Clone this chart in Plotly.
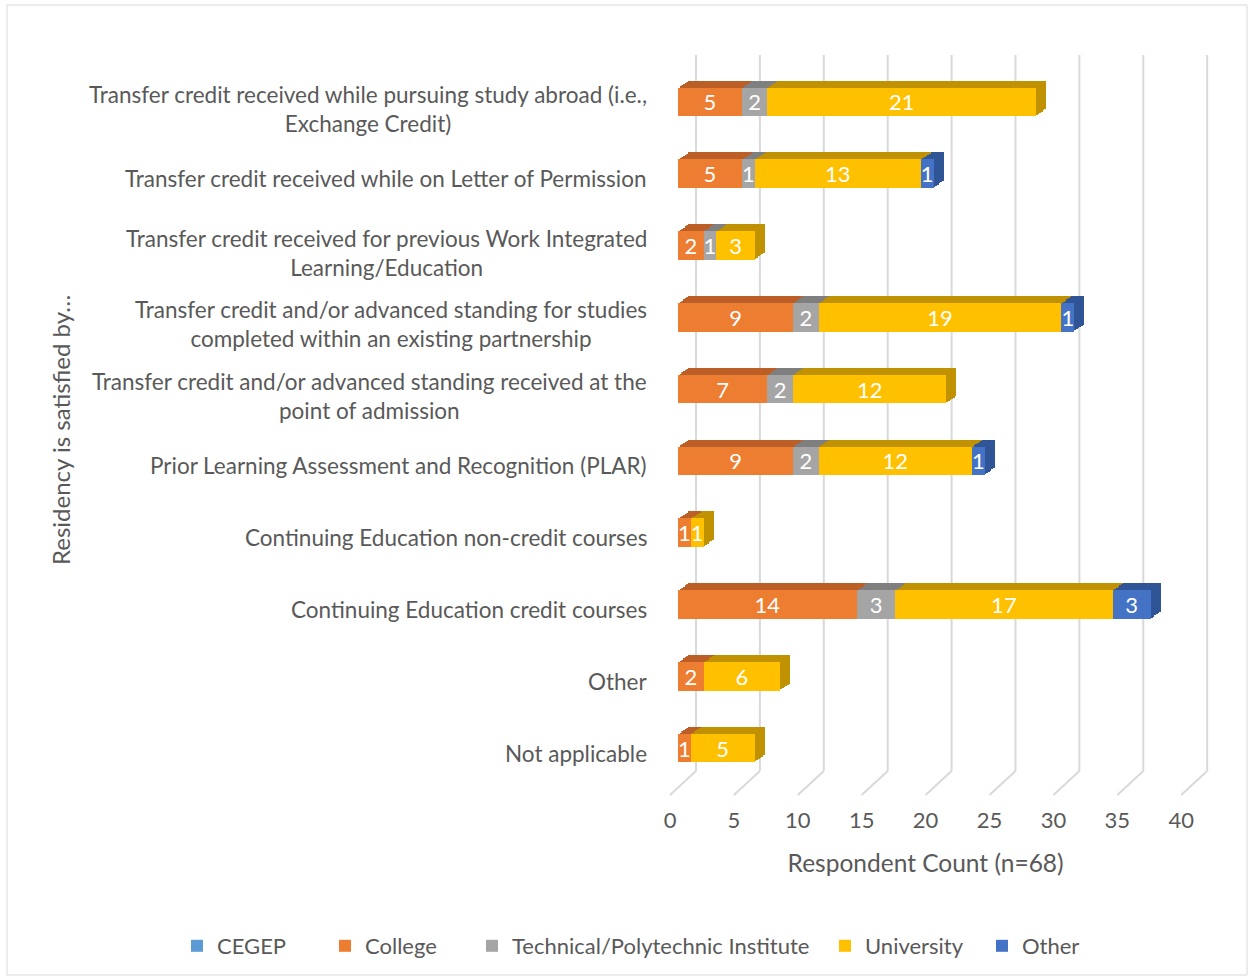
import plotly.graph_objects as go

# ---------------- data ----------------
categories = [
    "Transfer credit received while pursuing study abroad (i.e.,<br>Exchange Credit)",
    "Transfer credit received while on Letter of Permission",
    "Transfer credit received for previous Work Integrated<br>Learning/Education",
    "Transfer credit and/or advanced standing for studies<br>completed within an existing partnership",
    "Transfer credit and/or advanced standing received at the<br>point of admission",
    "Prior Learning Assessment and Recognition (PLAR)",
    "Continuing Education non-credit courses",
    "Continuing Education credit courses",
    "Other",
    "Not applicable",
]
cegep = [0, 0, 0, 0, 0, 0, 0, 0, 0, 0]
college = [5, 5, 2, 9, 7, 9, 1, 14, 2, 1]
technical = [2, 1, 1, 2, 2, 2, 0, 3, 0, 0]
university = [21, 13, 3, 19, 12, 12, 1, 17, 6, 5]
other = [0, 1, 0, 1, 0, 1, 0, 3, 0, 0]
series_names = ["CEGEP", "College", "Technical/Polytechnic Institute", "University", "Other"]
series_values = [cegep, college, technical, university, other]
x_ticks = [0, 5, 10, 15, 20, 25, 30, 35, 40]
x_title = "Respondent Count (n=68)"
y_title = "Residency is satisfied by…"

# ---------------- style ----------------
front_colors = ["#5b9bd5", "#ed7d31", "#a5a5a5", "#ffc000", "#4472c4"]
depth_colors = ["#41719c", "#bb5f27", "#7f7f7f", "#c09100", "#2f5597"]
legend_px = [177, 325, 472, 825, 982]   # left edge of each legend entry (px)
FONT = "Lato"
GREY = "#595959"

PL, PR, PT, PB = 600, 1240, 40, 829


def fx(px):
    return (px - PL) / (PR - PL)


def fy(py):
    return (PB - py) / (PB - PT)


X0 = 678.0
PXU = 12.78
X1 = X0 + 40 * PXU
Y_TOP, Y_BOT = 66.0, 784.0
N_LAYERS = 6
DX, DY = 10.0, 7.0

fig = go.Figure()
layout_axes = {}


def ycat():
    return dict(type="category", categoryorder="array", categoryarray=categories,
                range=[len(categories) - 0.5, -0.5])


def axname(i):
    return "" if i == 1 else str(i)


# back (depth) layers: deepest first
for idx in range(N_LAYERS):
    depth = N_LAYERS - idx
    ox = DX * depth / N_LAYERS
    oy = DY * depth / N_LAYERS
    n = idx + 1
    layout_axes["xaxis" + axname(n)] = dict(
        domain=[fx(X0 + ox), fx(X1 + ox)], range=[0, 40], showgrid=False,
        zeroline=False, showticklabels=False, showline=False, anchor="y" + axname(n),
        fixedrange=True)
    layout_axes["yaxis" + axname(n)] = dict(
        domain=[fy(Y_BOT - oy), fy(Y_TOP - oy)], showgrid=False, zeroline=False,
        showticklabels=False, showline=False, anchor="x" + axname(n), fixedrange=True,
        **ycat())
    for name, vals, col in zip(series_names, series_values, depth_colors):
        fig.add_trace(go.Bar(
            y=categories, x=vals, orientation="h", name=name,
            marker=dict(color=col, line=dict(width=0)),
            xaxis="x" + axname(n), yaxis="y" + axname(n),
            showlegend=False, hoverinfo="skip"))

# front layer
nf = N_LAYERS + 1
layout_axes["xaxis%d" % nf] = dict(domain=[fx(X0), fx(X1)], range=[0, 40], showgrid=False,
                                   zeroline=False, showticklabels=False, showline=False,
                                   anchor="y%d" % nf, fixedrange=True)
layout_axes["yaxis%d" % nf] = dict(domain=[fy(Y_BOT), fy(Y_TOP)], showgrid=False, zeroline=False,
                                   showticklabels=False, showline=False, anchor="x%d" % nf,
                                   fixedrange=True, **ycat())
legend_layouts = {}
for i, (name, vals, col) in enumerate(zip(series_names, series_values, front_colors)):
    lg = "legend" if i == 0 else "legend%d" % (i + 1)
    legend_layouts[lg] = dict(orientation="h", x=fx(legend_px[i]), xanchor="left",
                              y=fy(946), yanchor="middle", itemwidth=30,
                              font=dict(size=22, color=GREY, family=FONT),
                              bgcolor="rgba(0,0,0,0)")
    fig.add_trace(go.Bar(
        y=categories, x=vals, orientation="h", name=name,
        marker=dict(color=col, line=dict(width=0)),
        text=[str(v) if v else "" for v in vals],
        textposition="inside", insidetextanchor="middle", textangle=0,
        textfont=dict(color="white", size=22, family=FONT),
        xaxis="x%d" % nf, yaxis="y%d" % nf, showlegend=True, legend=lg,
        hovertemplate="%{y}<br>" + name + ": %{x}<extra></extra>"))

# tick-label axis (front floor edge)
nl = nf + 1
layout_axes["xaxis%d" % nl] = dict(
    domain=[fx(X0 - 8), fx(X1 - 8)], range=[0, 40], tickvals=x_ticks,
    showgrid=False, zeroline=False, showline=False, anchor="y%d" % nf,
    ticks="outside", ticklen=17, tickcolor="rgba(0,0,0,0)", fixedrange=True,
    tickfont=dict(size=22, color=GREY, family=FONT),
    title=dict(text=x_title, font=dict(size=24.5, color=GREY, family=FONT), standoff=22))
fig.add_trace(go.Scatter(x=[0], y=[categories[0]], mode="markers",
                         marker=dict(opacity=0), xaxis="x%d" % nl, yaxis="y%d" % nf,
                         showlegend=False, hoverinfo="skip"))

# wall axis: same scale as the bars, but wider so wall lines are not clipped
nw = nl + 1
PAD_L, PAD_R = 12.0, 40.0
layout_axes["xaxis%d" % nw] = dict(
    domain=[fx(X0 - PAD_L), fx(X1 + PAD_R)],
    range=[-PAD_L / PXU, 40 + PAD_R / PXU],
    showgrid=False, zeroline=False, showline=False, showticklabels=False,
    anchor="y%d" % nf, fixedrange=True)
fig.add_trace(go.Scatter(x=[0], y=[categories[0]], mode="markers",
                         marker=dict(opacity=0), xaxis="x%d" % nw, yaxis="y%d" % nf,
                         showlegend=False, hoverinfo="skip"))

# 3-D wall gridlines and floor lines
shapes = []
for v in x_ticks:
    shapes.append(dict(type="line", xref="x%d" % nw, yref="paper", xsizemode="pixel",
                       xanchor=v, x0=18, x1=18, y0=fy(771), y1=fy(55),
                       line=dict(color="#d9d9d9", width=2), layer="below"))
    shapes.append(dict(type="line", xref="x%d" % nw, yref="paper", xsizemode="pixel",
                       xanchor=v, x0=-8, x1=18, y0=fy(795), y1=fy(771),
                       line=dict(color="#d9d9d9", width=2), layer="below"))
# chart border
shapes.append(dict(type="rect", xref="paper", yref="paper",
                   x0=fx(7), x1=fx(1247), y0=fy(975), y1=fy(5),
                   line=dict(color="#d9d9d9", width=1), layer="below"))

# category labels as centred annotations
annotations = []
for c in categories:
    two = "<br>" in c
    annotations.append(dict(text=c, xref="paper", yref="y%d" % nf, x=fx(649), y=c,
                            xanchor="right", yanchor="middle", align="center",
                            showarrow=False, yshift=-7 if two else -5,
                            font=dict(size=22.5, color=GREY, family=FONT)))
annotations.append(dict(text=y_title, xref="paper", yref="paper", x=fx(60), y=fy(430),
                        textangle=-90, showarrow=False, xanchor="center", yanchor="middle",
                        font=dict(size=24, color=GREY, family=FONT)))

fig.update_layout(
    width=1250, height=979,
    margin=dict(l=PL, r=1250 - PR, t=PT, b=979 - PB, autoexpand=False),
    paper_bgcolor="white", plot_bgcolor="rgba(0,0,0,0)",
    barmode="stack", bargap=0.6,
    font=dict(family=FONT, color=GREY),
    uniformtext=dict(minsize=22, mode="show"),
    shapes=shapes, annotations=annotations,
    **legend_layouts,
    **layout_axes,
)

fig.write_html("out.html", config={"displayModeBar": False},
               post_script="document.body.style.margin='0px';")
